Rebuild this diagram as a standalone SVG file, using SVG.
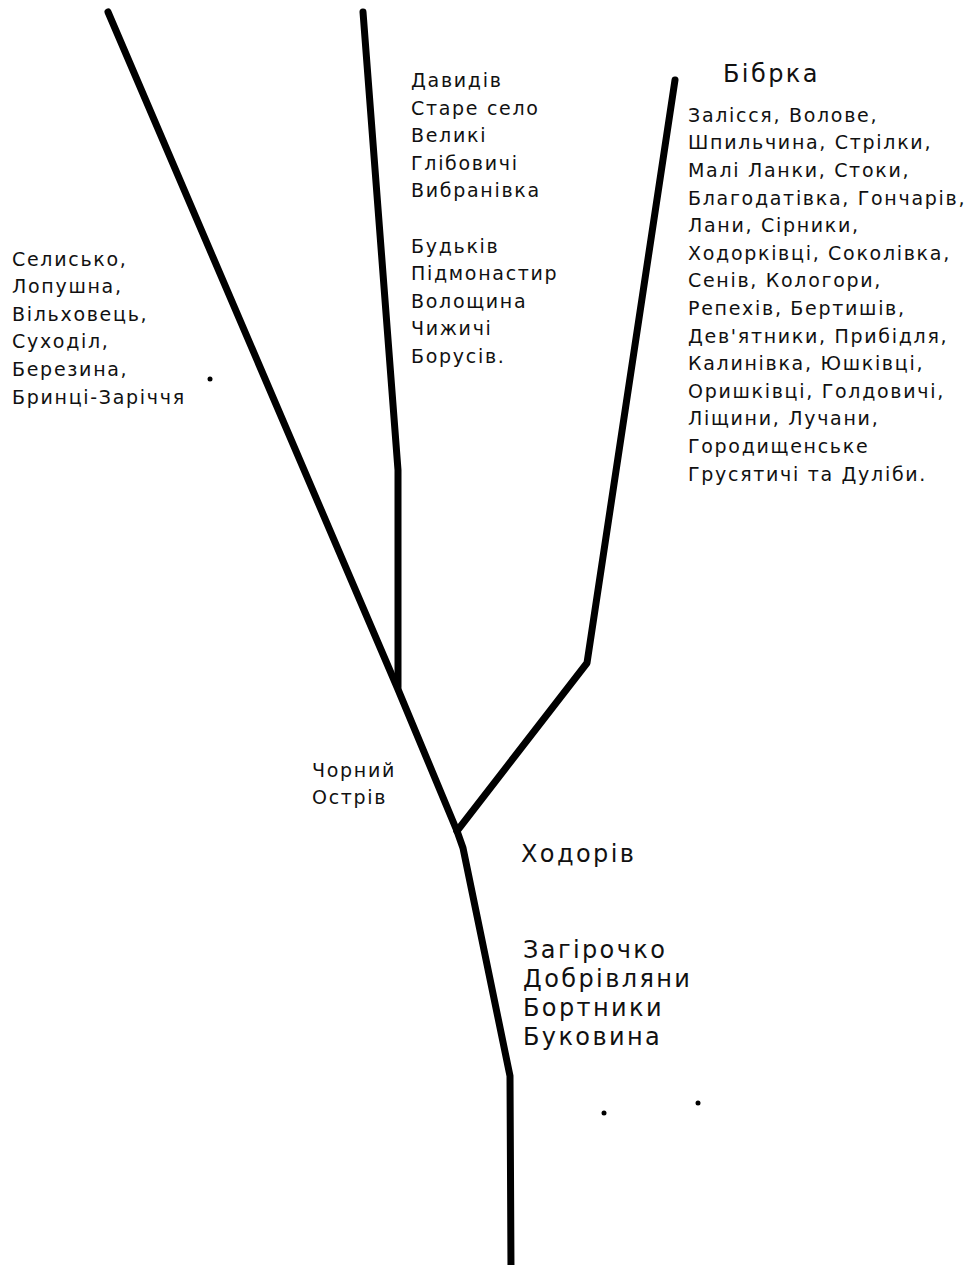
<svg xmlns="http://www.w3.org/2000/svg" width="976" height="1265" viewBox="0 0 976 1265">
<style>
.road{fill:none;stroke:#000;stroke-width:7;stroke-linecap:round;stroke-linejoin:round}
.t{font-family:"DejaVu Sans","Liberation Sans",sans-serif;font-size:19px;letter-spacing:1.7px;fill:#111}
.b{font-family:"DejaVu Sans","Liberation Sans",sans-serif;font-size:24px;letter-spacing:2.4px;fill:#111}
.dot{fill:#000}
</style>
<rect width="976" height="1265" fill="#fff"/>
<g id="connectors">
<polyline class="road" points="108,12 397,687 457,831"/>
<polyline class="road" points="363,12 398,470 398,687"/>
<polyline class="road" points="675,80 587,663 457,831"/>
<polyline class="road" points="457,831 463,848 510,1076 511,1270"/>
</g>
<g id="dots">
<circle class="dot" cx="210" cy="379" r="2.5"/>
<circle class="dot" cx="604" cy="1113" r="2.5"/>
<circle class="dot" cx="698" cy="1103" r="2.5"/>
</g>
<g id="west">
<text class="t" x="12" y="265.5">Селисько,</text>
<text class="t" x="12" y="293.1">Лопушна,</text>
<text class="t" x="12" y="320.7">Вільховець,</text>
<text class="t" x="12" y="348.3">Суходіл,</text>
<text class="t" x="12" y="375.9">Березина,</text>
<text class="t" x="12" y="403.5">Бринці-Заріччя</text>
</g>
<g id="north">
<text class="t" x="411" y="87">Давидів</text>
<text class="t" x="411" y="114.6">Старе село</text>
<text class="t" x="411" y="142.2">Великі</text>
<text class="t" x="411" y="169.8">Глібовичі</text>
<text class="t" x="411" y="197.4">Вибранівка</text>
<text class="t" x="411" y="252.6">Будьків</text>
<text class="t" x="411" y="280.2">Підмонастир</text>
<text class="t" x="411" y="307.8">Волощина</text>
<text class="t" x="411" y="335.4">Чижичі</text>
<text class="t" x="411" y="363">Борусів.</text>
</g>
<g id="bibrka">
<text class="b" x="723" y="82">Бібрка</text>
</g>
<g id="northeast">
<text class="t" x="688" y="121.7">Залісся, Волове,</text>
<text class="t" x="688" y="149.3">Шпильчина, Стрілки,</text>
<text class="t" x="688" y="176.9">Малі Ланки, Стоки,</text>
<text class="t" x="688" y="204.5">Благодатівка, Гончарів,</text>
<text class="t" x="688" y="232.1">Лани, Сірники,</text>
<text class="t" x="688" y="259.7">Ходорківці, Соколівка,</text>
<text class="t" x="688" y="287.3">Сенів, Кологори,</text>
<text class="t" x="688" y="314.9">Репехів, Бертишів,</text>
<text class="t" x="688" y="342.5">Дев'ятники, Прибідля,</text>
<text class="t" x="688" y="370.1">Калинівка, Юшківці,</text>
<text class="t" x="688" y="397.7">Оришківці, Голдовичі,</text>
<text class="t" x="688" y="425.3">Ліщини, Лучани,</text>
<text class="t" x="688" y="452.9">Городищенське</text>
<text class="t" x="688" y="480.5">Грусятичі та Дуліби.</text>
</g>
<g id="chornyi-ostriv">
<text class="t" x="312" y="777">Чорний</text>
<text class="t" x="312" y="803.5">Острів</text>
</g>
<g id="khodoriv">
<text class="b" x="521" y="862">Ходорів</text>
</g>
<g id="south">
<text class="b" x="523" y="958">Загірочко</text>
<text class="b" x="523" y="987">Добрівляни</text>
<text class="b" x="523" y="1016">Бортники</text>
<text class="b" x="523" y="1045">Буковина</text>
</g>
</svg>
